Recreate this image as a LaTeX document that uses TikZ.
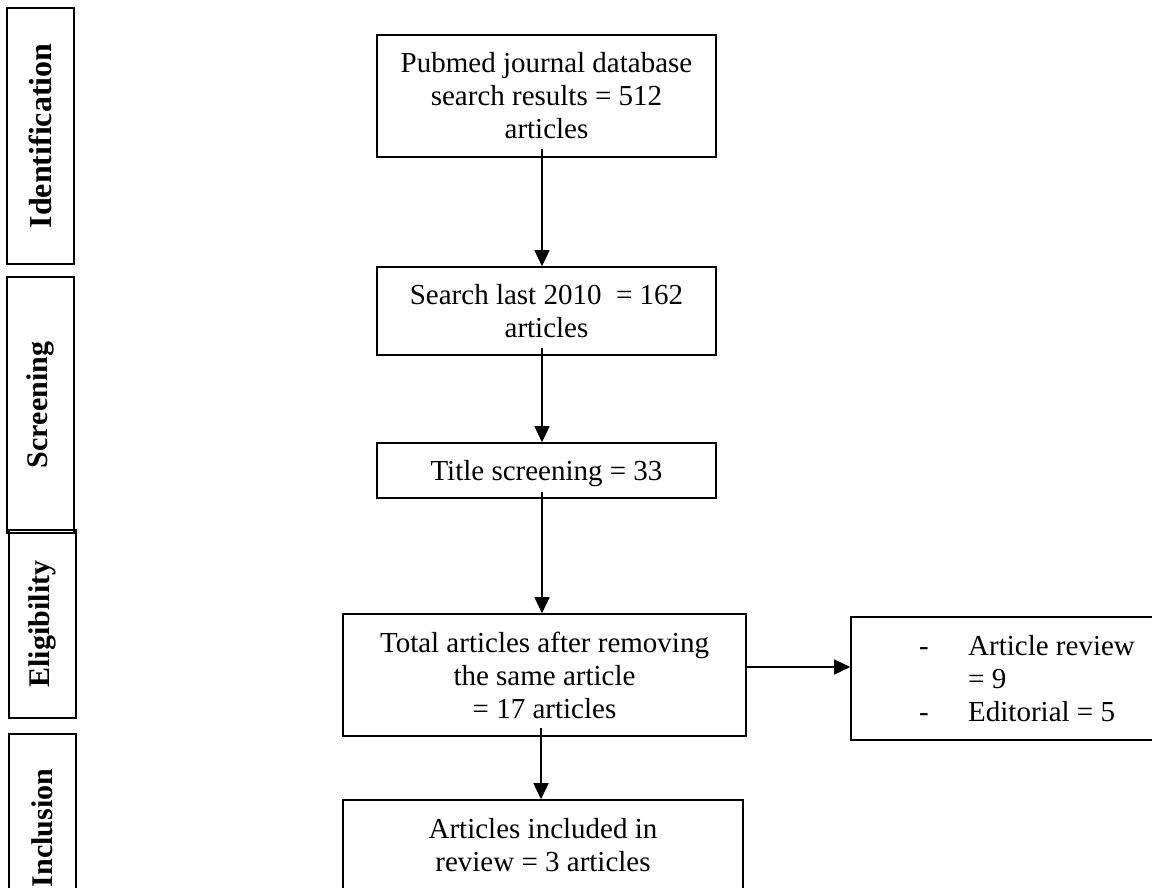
\documentclass[tikz,border=0pt]{standalone}
\usepackage{fontspec}
\setmainfont{Liberation Serif}
\usetikzlibrary{arrows.meta}
\begin{document}
\begin{tikzpicture}[x=1pt,y=-1pt,
  flowbox/.style={draw=black, line width=1.6pt, rectangle, inner sep=0pt, align=center,
    font=\fontsize{29}{33}\selectfont},
  stagebox/.style={draw=black, line width=1.6pt, rectangle, inner sep=0pt, rotate=90,
    minimum height=67pt, font=\bfseries\fontsize{30}{34}\selectfont},
  arr/.style={line width=1.5pt, -{Triangle[length=16pt,width=15pt]}}
]
\useasboundingbox (0,0) rectangle (1152,888);
\clip (0,0) rectangle (1152,888);

% stage labels
\node[stagebox, minimum width=256pt, font=\bfseries\fontsize{32}{36}\selectfont] (ident) at (40.5,136) {Identification};
\node[stagebox, minimum width=256pt] (screen) at (40.5,405) {Screening};
\node[stagebox, minimum width=188pt] (elig) at (42.5,624) {Eligibility};
\node[stagebox, minimum width=188pt] (incl) at (42.5,828) {Inclusion};

% main flow
\node[flowbox, minimum width=339pt, minimum height=122pt] (b1) at (546.5,96)
  {Pubmed journal database\\ search results = 512\\ articles};
\node[flowbox, minimum width=339pt, minimum height=88pt] (b2) at (546.5,311)
  {Search last 2010\ \ = 162\\ articles};
\node[flowbox, minimum width=339pt, minimum height=55pt, text depth=0pt] (b3) at (546.5,470.5)
  {Title screening = 33};
\node[flowbox, minimum width=403pt, minimum height=122pt] (b4) at (544.5,675)
  {Total articles after removing\\ the same article\\ = 17 articles};
\node[flowbox, minimum width=400pt, minimum height=90pt] (b6) at (543,845)
  {Articles included in\\ review = 3 articles};

% exclusion box
\node[flowbox, minimum width=309pt, minimum height=123pt] (b5) at (1005.5,678.5) {};
\node[anchor=west, inner sep=0pt, font=\fontsize{29}{33}\selectfont] (b5text) at (919,681.5)
  {\begin{tabular}{@{}p{49pt}@{}l@{}}-&Article review\\ &= 9\\ -&Editorial = 5\end{tabular}};

% connectors
\coordinate (b4out) at ([yshift=8pt]b4.east);
\draw[arr] ([xshift=-4.5pt,yshift=9pt]b1.south) -- ([xshift=-4.5pt]b2.north);
\draw[arr] ([xshift=-4.5pt,yshift=8pt]b2.south) -- ([xshift=-4.5pt]b3.north);
\draw[arr] ([xshift=-4.5pt,yshift=7pt]b3.south) -- ([xshift=-2.5pt]b4.north);
\draw[arr] ([xshift=-3.5pt,yshift=9pt]b4.south) -- ([xshift=-2pt]b6.north);
\draw[arr] (b4out) -- (b4out -| b5.west);
\end{tikzpicture}
\end{document}
